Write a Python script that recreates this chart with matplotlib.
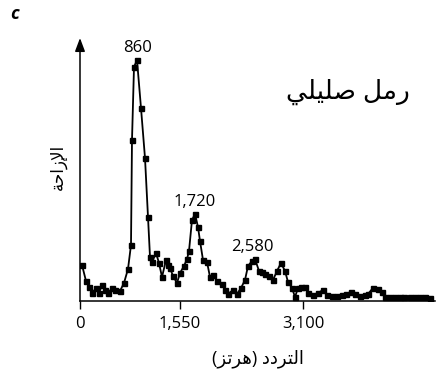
import matplotlib.pyplot as plt
import numpy as np

plt.rcParams['font.family'] = ['Open Sans', 'DejaVu Sans']

# frequency (Hz) and displacement (arbitrary units)
freq = [30, 90, 135, 180, 240, 285, 330, 375, 420, 480,
        525, 600, 660, 720, 765, 780, 810, 855, 915, 975,
        1020, 1050, 1080, 1140, 1185, 1230, 1290, 1320, 1350, 1395,
        1455, 1500, 1560, 1605, 1635, 1680, 1725, 1770, 1800, 1845,
        1905, 1950, 1995, 2055, 2130, 2175, 2220, 2295, 2355, 2415,
        2475, 2520, 2580, 2625, 2685, 2730, 2775, 2835, 2895, 2955,
        3015, 3075, 3120, 3180, 3225, 3270, 3315, 3375, 3420, 3495,
        3570, 3645, 3705, 3780, 3855, 3930, 3990, 4065, 4125, 4200,
        4275, 4320, 4395, 4470, 4530, 4575, 4650, 4725, 4800, 4860,
        4950, 5025, 5100, 5175, 5250]
disp = [36, 20, 14, 8, 13, 8, 16, 11, 8, 13,
        11, 10, 18, 32, 56, 161, 234, 241, 193, 143,
        84, 44, 39, 48, 38, 24, 41, 36, 33, 25,
        18, 28, 35, 42, 50, 81, 87, 74, 60, 41,
        39, 24, 26, 20, 17, 11, 7, 11, 7, 13,
        21, 35, 40, 42, 30, 29, 27, 25, 21, 30,
        38, 30, 19, 13, 4, 13, 14, 14, 8, 6,
        8, 11, 6, 5, 5, 6, 7, 9, 7, 5,
        6, 7, 13, 12, 9, 4, 4, 4, 4, 4,
        4, 4, 4, 4, 3]

peaks = [860, 1720, 2580]
peak_labels = ['860', '1,720', '2,580']

tick_pos = [0, 1500, 3345]
tick_labels = ['0', '1,550', '3,100']

# Arabic text written in presentation forms, visual order
sand_label = '\ufef2\ufee0\ufef4\ufee0\ufebb \ufede\ufee3\ufead'
y_label = '\ufe94\ufea3\ufe8d\ufeaf\ufef9\ufe8d'
x_label = '(\ufeb0\ufe97\ufeae\ufeeb) \ufea9\ufea9\ufeae\ufe98\ufedf\ufe8d'

fig = plt.figure(figsize=(4.42, 3.77), dpi=100)
ax = fig.add_axes([80/442, 76/377, 355/442, 263/377])

ax.plot(freq, disp, color='black', lw=1.3, marker='s', markersize=3.6)

f = np.array(freq)
d = np.array(disp)
for p, lab in zip(peaks, peak_labels):
    near = np.abs(f - p) <= 100
    ax.annotate(lab, xy=(p, d[near].max()), xytext=(0, 3),
                textcoords='offset points', ha='center', va='bottom',
                fontsize=12)

ax.set_xlim(0, 5325)
ax.set_ylim(0, 263)
ax.set_xticks(tick_pos, tick_labels, fontsize=12)
ax.set_yticks([])
ax.tick_params(axis='x', direction='out', length=5.5, width=1, pad=5)
for s in ['top', 'right', 'left']:
    ax.spines[s].set_visible(False)
ax.spines['bottom'].set_linewidth(1.1)

# y axis with arrow head
ax.annotate('', xy=(0, 1), xytext=(0, -0.001), xycoords='axes fraction',
            arrowprops=dict(arrowstyle='-|>,head_length=0.8,head_width=0.3',
                            mutation_scale=10, lw=1.1, color='black',
                            shrinkA=0, shrinkB=0))

ax.set_xlabel(x_label, fontsize=13, labelpad=13)
fig.text(58/442, 1 - 167/377, y_label, rotation=90, ha='center', va='center',
         fontsize=12)
fig.text(348/442, 1 - 92/377, sand_label, ha='center', va='center',
         fontsize=19)
fig.text(10/442, 1 - 14/377, 'c', fontsize=13, fontweight='bold',
         fontstyle='italic', ha='left', va='center')

fig.savefig('out.png', dpi=100)
